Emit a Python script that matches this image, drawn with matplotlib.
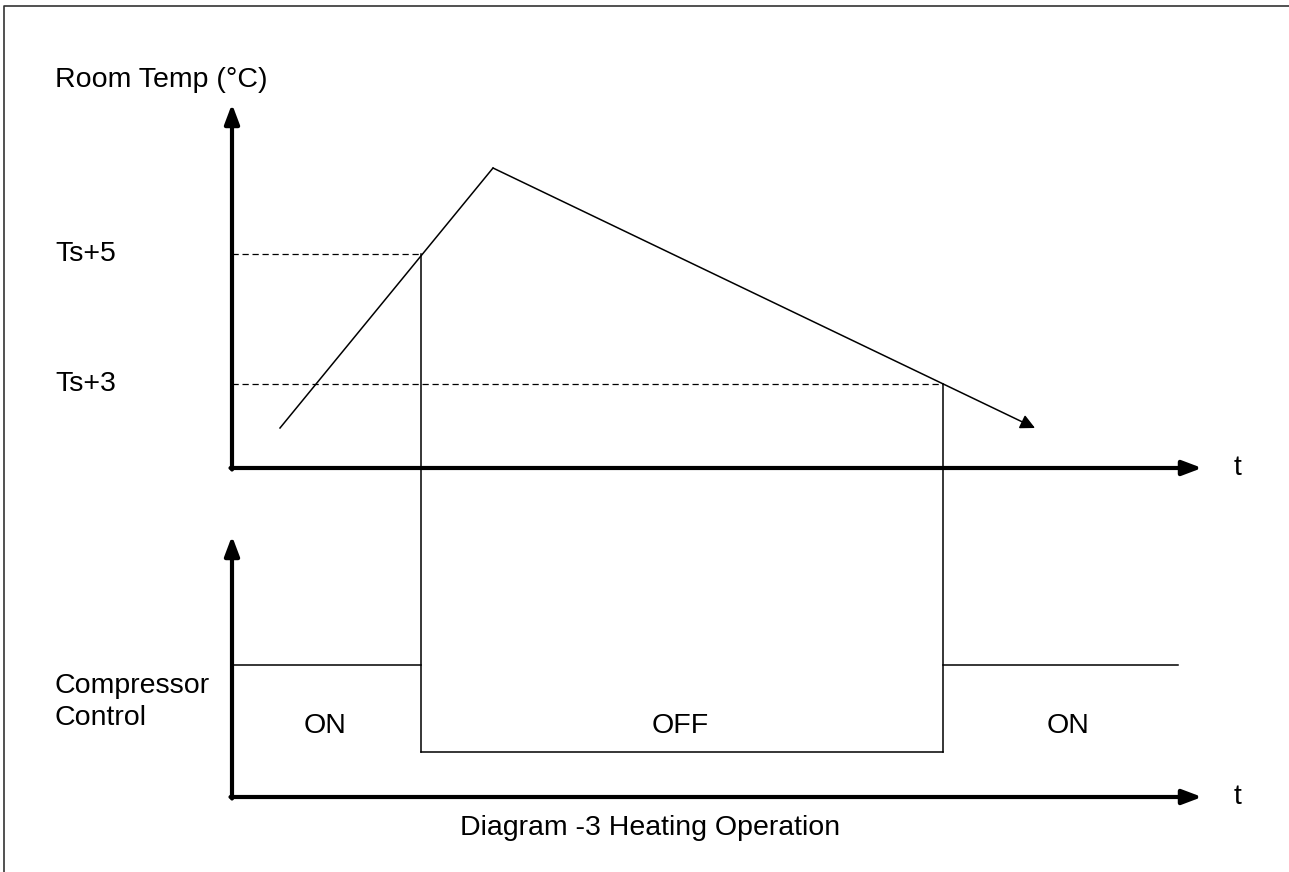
import matplotlib
matplotlib.use("Agg")
import matplotlib.pyplot as plt

W, H = 1289, 872

# room temperature trace (x = time, y = level, drawing units, y grows down)
temp_t = [280, 493, 1035]
temp_y = [428, 168, 428]

# set-point levels and the times the trace crosses them
level_ts5 = 254
level_ts3 = 384
t_off = 421
t_on = 943

# compressor state levels
comp_on = 665
comp_off = 752
comp_end = 1178

# axes frames
axis_x0 = 232
axis_x1 = 1202
upper_base, upper_top = 468, 104
lower_base, lower_top = 797, 536

level_labels = ["Ts+5", "Ts+3"]
state_labels = ["ON", "OFF", "ON"]
state_x = [325, 680, 1068]

FONT = "Liberation Sans"
FS = 20.5

fig = plt.figure(figsize=(W / 100, H / 100), dpi=100)
ax = fig.add_axes([0, 0, 1, 1])
ax.set_xlim(0, W)
ax.set_ylim(H, 0)
ax.axis("off")

# outer frame (only left and top edges visible)
ax.plot([4, 4, W], [H, 6, 6], color="#333333", lw=1.2)

axis_kw = dict(arrowstyle="-|>,head_length=0.45,head_width=0.17",
               color="black", lw=3, mutation_scale=26,
               shrinkA=0, shrinkB=0)

def axis_arrow(x0, y0, x1, y1):
    ax.annotate("", xy=(x1, y1), xytext=(x0, y0), arrowprops=axis_kw)

# upper chart axes
axis_arrow(axis_x0, upper_base + 1.5, axis_x0, upper_top)
axis_arrow(axis_x0 - 1.5, upper_base, axis_x1, upper_base)
# lower chart axes
axis_arrow(axis_x0, lower_base + 1.5, axis_x0, lower_top)
axis_arrow(axis_x0 - 1.5, lower_base, axis_x1, lower_base)

# temperature trace
ax.plot(temp_t[:2], temp_y[:2], color="black", lw=1.1)
ax.annotate("", xy=(temp_t[2], temp_y[2]), xytext=(temp_t[1], temp_y[1]),
            arrowprops=dict(arrowstyle="-|>", color="black", lw=1.1,
                            mutation_scale=22, shrinkA=0, shrinkB=0))

# set-point dashed guides
ax.plot([axis_x0, t_off], [level_ts5, level_ts5], color="black", lw=0.9,
        ls=(0, (5, 3)))
ax.plot([axis_x0, t_on], [level_ts3, level_ts3], color="black", lw=0.9,
        ls=(0, (5, 3)))

# switching verticals down to compressor trace
ax.plot([t_off, t_off], [level_ts5, comp_off], color="black", lw=1.1)
ax.plot([t_on, t_on], [level_ts3, comp_off], color="black", lw=1.1)

# compressor state trace
ax.plot([axis_x0, t_off], [comp_on, comp_on], color="black", lw=1.1)
ax.plot([t_off, t_on], [comp_off, comp_off], color="black", lw=1.1)
ax.plot([t_on, comp_end], [comp_on, comp_on], color="black", lw=1.1)

txt = dict(fontsize=FS, family=FONT, color="black")
ax.text(55, 80, "Room Temp (°C)", ha="left", va="center", **txt)
ax.text(55, level_ts5, level_labels[0], ha="left", va="center", **txt)
ax.text(55, level_ts3, level_labels[1], ha="left", va="center", **txt)
ax.text(55, 702, "Compressor\nControl", ha="left", va="center",
        linespacing=1.3, **txt)
for x, s in zip(state_x, state_labels):
    ax.text(x, 726, s, ha="center", va="center", **txt)
ax.text(1238, upper_base, "t", ha="center", va="center", **txt)
ax.text(1238, lower_base, "t", ha="center", va="center", **txt)
ax.text(650, 828, "Diagram -3 Heating Operation", ha="center", va="center",
        **txt)

fig.savefig("out.png", dpi=100)
